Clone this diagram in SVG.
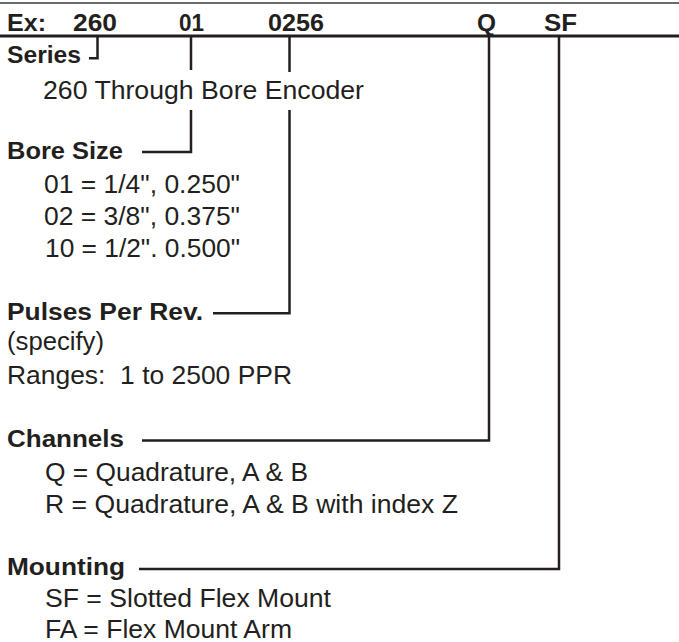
<svg xmlns="http://www.w3.org/2000/svg" width="679" height="642" viewBox="0 0 679 642">
<style>
.b{font-family:"Liberation Sans",Arial,Helvetica,sans-serif;font-weight:bold;font-size:23px;fill:#231f20}
.r{font-family:"Liberation Sans",Arial,Helvetica,sans-serif;font-size:25.5px;fill:#231f20}
.ln{stroke:#231f20;stroke-width:2.5;fill:none}
</style>
<rect width="679" height="642" fill="#fff"/>
<g id="header">
<line x1="0" y1="3" x2="679" y2="3" stroke="#3a3a3a" stroke-width="1.5"/>
<line x1="0" y1="36" x2="679" y2="36" stroke="#231f20" stroke-width="3"/>
<text class="b" x="7" y="31" textLength="39" lengthAdjust="spacingAndGlyphs">Ex:</text>
<text class="b" x="73" y="31" textLength="44" lengthAdjust="spacingAndGlyphs">260</text>
<text class="b" x="179" y="31" textLength="25" lengthAdjust="spacingAndGlyphs">01</text>
<text class="b" x="268" y="31" textLength="56" lengthAdjust="spacingAndGlyphs">0256</text>
<text class="b" x="477" y="31" textLength="19" lengthAdjust="spacingAndGlyphs">Q</text>
<text class="b" x="544" y="31" textLength="33" lengthAdjust="spacingAndGlyphs">SF</text>
</g>
<g id="series">
<text class="b" x="7" y="63" textLength="74" lengthAdjust="spacingAndGlyphs">Series</text>
<text class="r" x="43" y="99" textLength="321" lengthAdjust="spacingAndGlyphs">260 Through Bore Encoder</text>
</g>
<g id="bore-size">
<text class="b" x="7" y="158.5" textLength="116" lengthAdjust="spacingAndGlyphs">Bore Size</text>
<text class="r" x="44" y="192.5" textLength="196" lengthAdjust="spacingAndGlyphs">01 = 1/4", 0.250"</text>
<text class="r" x="44" y="224.5" textLength="196" lengthAdjust="spacingAndGlyphs">02 = 3/8", 0.375"</text>
<text class="r" x="45" y="256.5" textLength="195" lengthAdjust="spacingAndGlyphs">10 = 1/2". 0.500"</text>
</g>
<g id="pulses">
<text class="b" x="7" y="319.5" textLength="196" lengthAdjust="spacingAndGlyphs">Pulses Per Rev.</text>
<text class="r" x="7" y="350" textLength="97" lengthAdjust="spacingAndGlyphs">(specify)</text>
<text class="r" x="7" y="383.5" textLength="285" lengthAdjust="spacingAndGlyphs" xml:space="preserve">Ranges:  1 to 2500 PPR</text>
</g>
<g id="channels">
<text class="b" x="7" y="447" textLength="117" lengthAdjust="spacingAndGlyphs">Channels</text>
<text class="r" x="45" y="480.5" textLength="263" lengthAdjust="spacingAndGlyphs">Q = Quadrature, A &amp; B</text>
<text class="r" x="45" y="512.5" textLength="413" lengthAdjust="spacingAndGlyphs">R = Quadrature, A &amp; B with index Z</text>
</g>
<g id="mounting">
<text class="b" x="7" y="575" textLength="118" lengthAdjust="spacingAndGlyphs">Mounting</text>
<text class="r" x="45" y="607" textLength="286" lengthAdjust="spacingAndGlyphs">SF = Slotted Flex Mount</text>
<text class="r" x="45" y="637.5" textLength="247" lengthAdjust="spacingAndGlyphs">FA = Flex Mount Arm</text>
</g>
<g id="connectors">
<polyline class="ln" points="97.5,36 97.5,58.3 89,58.3"/>
<line class="ln" x1="191" y1="36" x2="191" y2="70"/>
<polyline class="ln" points="191,110 191,152 142,152"/>
<line class="ln" x1="289.5" y1="36" x2="289.5" y2="72"/>
<polyline class="ln" points="289.5,110 289.5,313.3 213,313.3"/>
<polyline class="ln" points="489,36 489,440.5 142,440.5"/>
<polyline class="ln" points="559,36 559,569 139,569"/>
</g>
</svg>
